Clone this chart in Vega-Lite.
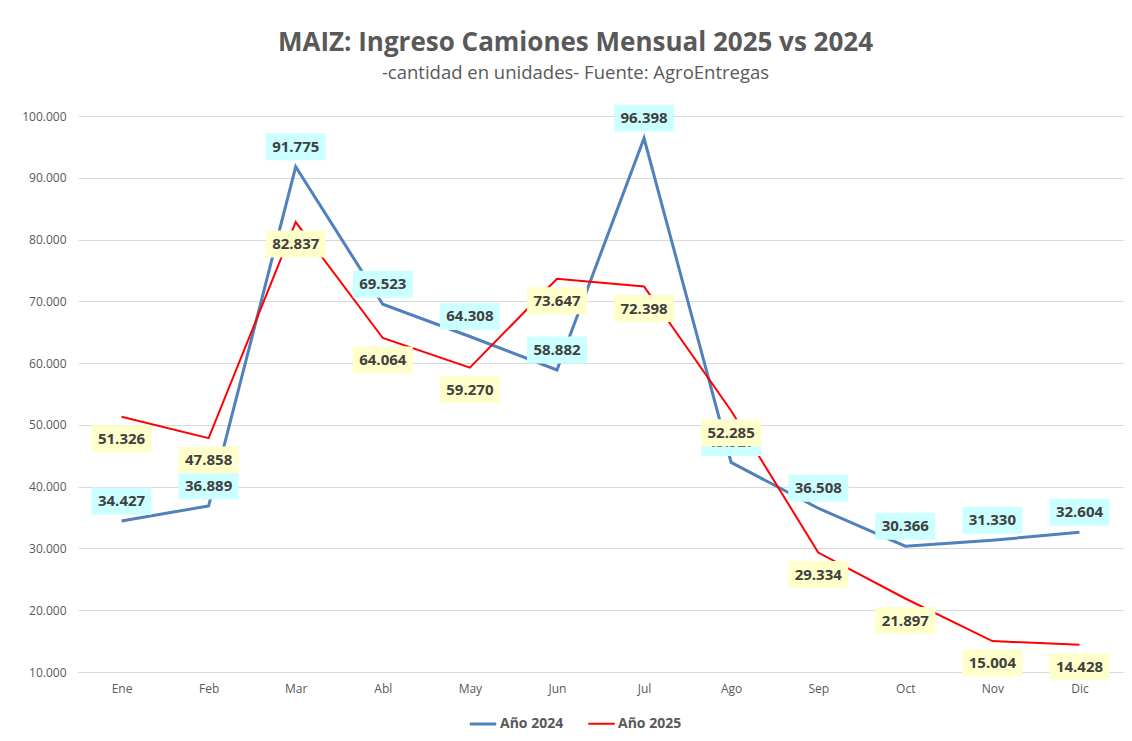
{
  "$schema": "https://vega.github.io/schema/vega-lite/v6.json",
  "width": 1045,
  "height": 556,
  "autosize": {"type": "none"},
  "padding": {"left": 78, "top": 116, "right": 9, "bottom": 69},
  "background": "white",
  "title": {
    "text": "MAIZ: Ingreso Camiones Mensual 2025 vs 2024",
    "subtitle": "-cantidad en unidades- Fuente: AgroEntregas",
    "anchor": "middle",
    "dx": -25,
    "font": "Open Sans",
    "fontSize": 26,
    "fontWeight": "bold",
    "color": "#595959",
    "subtitleFont": "Open Sans",
    "subtitleFontSize": 18.5,
    "subtitleColor": "#595959",
    "subtitlePadding": 8,
    "offset": 22
  },
  "config": {
    "locale": {"number": {"decimal": ",", "thousands": ".", "grouping": [3], "currency": ["$", ""]}},
    "view": {"stroke": null},
    "font": "Open Sans"
  },
  "data": {
    "values": [
      {"mes": "Ene", "serie": "Año 2024", "valor": 34427},
      {"mes": "Feb", "serie": "Año 2024", "valor": 36889},
      {"mes": "Mar", "serie": "Año 2024", "valor": 91775},
      {"mes": "Abl", "serie": "Año 2024", "valor": 69523},
      {"mes": "May", "serie": "Año 2024", "valor": 64308},
      {"mes": "Jun", "serie": "Año 2024", "valor": 58882},
      {"mes": "Jul", "serie": "Año 2024", "valor": 96398},
      {"mes": "Ago", "serie": "Año 2024", "valor": 43927},
      {"mes": "Sep", "serie": "Año 2024", "valor": 36508},
      {"mes": "Oct", "serie": "Año 2024", "valor": 30366},
      {"mes": "Nov", "serie": "Año 2024", "valor": 31330},
      {"mes": "Dic", "serie": "Año 2024", "valor": 32604},
      {"mes": "Ene", "serie": "Año 2025", "valor": 51326},
      {"mes": "Feb", "serie": "Año 2025", "valor": 47858},
      {"mes": "Mar", "serie": "Año 2025", "valor": 82837},
      {"mes": "Abl", "serie": "Año 2025", "valor": 64064},
      {"mes": "May", "serie": "Año 2025", "valor": 59270},
      {"mes": "Jun", "serie": "Año 2025", "valor": 73647},
      {"mes": "Jul", "serie": "Año 2025", "valor": 72398},
      {"mes": "Ago", "serie": "Año 2025", "valor": 52285},
      {"mes": "Sep", "serie": "Año 2025", "valor": 29334},
      {"mes": "Oct", "serie": "Año 2025", "valor": 21897},
      {"mes": "Nov", "serie": "Año 2025", "valor": 15004},
      {"mes": "Dic", "serie": "Año 2025", "valor": 14428}
    ]
  },
  "encoding": {
    "x": {
      "field": "mes",
      "type": "ordinal",
      "sort": ["Ene", "Feb", "Mar", "Abl", "May", "Jun", "Jul", "Ago", "Sep", "Oct", "Nov", "Dic"],
      "scale": {"type": "point", "padding": 0.5},
      "axis": {
        "title": null,
        "labelAngle": 0,
        "labelFont": "Open Sans",
        "labelFontSize": 12,
        "labelColor": "#595959",
        "labelPadding": 11,
        "ticks": false,
        "domainColor": "#D9D9D9",
        "domainWidth": 1,
        "grid": false
      }
    },
    "y": {
      "field": "valor",
      "type": "quantitative",
      "scale": {"domain": [10000, 100000], "nice": false, "zero": false},
      "axis": {
        "title": null,
        "values": [10000, 20000, 30000, 40000, 50000, 60000, 70000, 80000, 90000, 100000],
        "format": ",.0f",
        "labelFont": "Open Sans",
        "labelFontSize": 12,
        "labelColor": "#595959",
        "labelPadding": 12,
        "ticks": false,
        "domain": false,
        "grid": true,
        "gridColor": "#D9D9D9",
        "gridWidth": 1
      }
    }
  },
  "layer": [
    {
      "mark": {"type": "line", "strokeJoin": "miter"},
      "encoding": {
        "color": {
          "field": "serie",
          "type": "nominal",
          "scale": {"domain": ["Año 2024", "Año 2025"], "range": ["#4F81BD", "#FF0000"]},
          "legend": {
            "title": null,
            "orient": "none",
            "legendX": 390,
            "legendY": 593,
            "direction": "horizontal",
            "symbolType": "stroke",
            "symbolSize": 700,
            "symbolStrokeWidth": 3,
            "labelFont": "Open Sans",
            "labelFontSize": 14,
            "labelFontWeight": "bold",
            "labelColor": "#595959",
            "labelOffset": 2,
            "columnPadding": 20
          }
        },
        "strokeWidth": {
          "field": "serie",
          "type": "nominal",
          "scale": {"domain": ["Año 2024", "Año 2025"], "range": [3, 2]},
          "legend": null
        }
      }
    },
    {
      "transform": [{"filter": "datum.serie === 'Año 2024'"}],
      "mark": {"type": "point", "shape": "M-1.2,-0.54H1.2V0.54H-1.2Z", "size": 2500, "filled": true, "opacity": 1, "color": "#CCFFFF", "strokeWidth": 0, "yOffset": -20}
    },
    {
      "transform": [{"filter": "datum.serie === 'Año 2024'"}],
      "mark": {"type": "text", "font": "Open Sans", "fontSize": 15, "fontWeight": "bold", "color": "#404040", "dy": -20, "baseline": "middle", "align": "center"},
      "encoding": {"text": {"field": "valor", "type": "quantitative", "format": ",.0f"}}
    },
    {
      "transform": [{"filter": "datum.serie === 'Año 2025'"}],
      "mark": {"type": "point", "shape": "M-1.2,-0.54H1.2V0.54H-1.2Z", "size": 2500, "filled": true, "opacity": 1, "color": "#FFFFCC", "strokeWidth": 0, "yOffset": 22}
    },
    {
      "transform": [{"filter": "datum.serie === 'Año 2025'"}],
      "mark": {"type": "text", "font": "Open Sans", "fontSize": 15, "fontWeight": "bold", "color": "#404040", "dy": 22, "baseline": "middle", "align": "center"},
      "encoding": {"text": {"field": "valor", "type": "quantitative", "format": ",.0f"}}
    }
  ]
}
